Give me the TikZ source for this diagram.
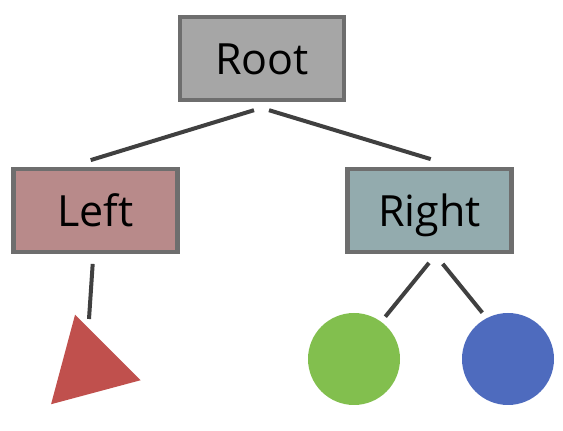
\documentclass[tikz,border=0pt]{standalone}
\usepackage{fontspec}
\setmainfont{Open Sans}
\usetikzlibrary{shapes.geometric}
\definecolor{rootfill}{HTML}{A6A6A6}
\definecolor{leftfill}{HTML}{B88A8A}
\definecolor{rightfill}{HTML}{93ABAE}
\definecolor{boxline}{HTML}{6E6E6E}
\definecolor{edgeline}{HTML}{404040}
\definecolor{trired}{HTML}{C0504D}
\definecolor{leafgreen}{HTML}{82BF4E}
\definecolor{leafblue}{HTML}{4E6BBE}
\tikzset{
  treebox/.style={draw=boxline, line width=4.4pt, minimum width=164pt, minimum height=83pt,
    inner sep=0pt, text height=33pt, text depth=0pt, font=\fontsize{43}{48}\selectfont},
  edge/.style={draw=edgeline, line width=4pt},
  leaf/.style={circle, minimum size=92pt, inner sep=0pt},
}
\begin{document}
\begin{tikzpicture}[x=1pt,y=1pt]
\useasboundingbox (0,0) rectangle (563,431);
\node[treebox, fill=rootfill] (root) at (262,372.5) {Root};
\node[treebox, fill=leftfill] (left) at (95.5,220.5) {Left};
\node[treebox, fill=rightfill] (right) at (429.5,220.5) {Right};
\node[regular polygon, regular polygon sides=3, minimum size=107pt, inner sep=0pt,
  rotate=15, fill=trired] (tri) at (88.9,64.6) {};
\node[leaf, fill=leafgreen] (green) at (354,72) {};
\node[leaf, fill=leafblue] (blue) at (508,72) {};
\draw[edge] ([shift={(-8,-8)}]root.south) -- ([shift={(-4.8,6.7)}]left.north);
\draw[edge] ([shift={(7,-8)}]root.south) -- ([shift={(1.2,7.7)}]right.north);
\draw[edge] ([shift={(-2.8,-9.7)}]left.south) -- ([shift={(0.1,47.4)}]tri.center);
\draw[edge] ([shift={(-0.5,-8.7)}]right.south) -- ([shift={(31.3,42.3)}]green.center);
\draw[edge] ([shift={(13.2,-9.7)}]right.south) -- ([shift={(-25.7,46.3)}]blue.center);
\end{tikzpicture}
\end{document}
